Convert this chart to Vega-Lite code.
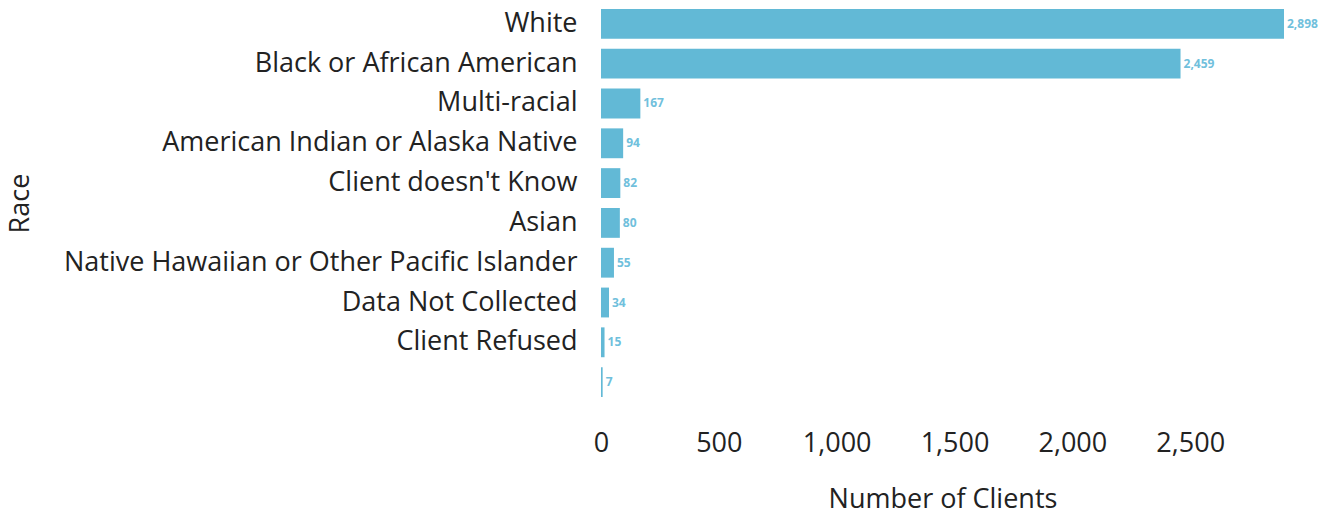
{
  "$schema": "https://vega.github.io/schema/vega-lite/v6.json",
  "autosize": {"type": "none"},
  "width": 683,
  "height": 400,
  "padding": {"left": 601, "top": 3, "right": 48, "bottom": 113},
  "background": "white",
  "data": {"values": [
    {"race": "White", "clients": 2898},
    {"race": "Black or African American", "clients": 2459},
    {"race": "Multi-racial", "clients": 167},
    {"race": "American Indian or Alaska Native", "clients": 94},
    {"race": "Client doesn't Know", "clients": 82},
    {"race": "Asian", "clients": 80},
    {"race": "Native Hawaiian or Other Pacific Islander", "clients": 55},
    {"race": "Data Not Collected", "clients": 34},
    {"race": "Client Refused", "clients": 15},
    {"race": " ", "clients": 7}
  ]},
  "config": {
    "view": {"stroke": null},
    "font": "Open Sans",
    "axis": {"labelFont": "Open Sans", "titleFont": "Open Sans", "labelColor": "#222", "titleColor": "#222", "titleFontWeight": "normal", "grid": false, "ticks": false, "domain": false, "labelLimit": 1000}
  },
  "encoding": {
    "y": {"field": "race", "type": "nominal", "sort": {"field": "clients", "order": "descending"},
      "scale": {"paddingInner": 0.25, "paddingOuter": 0.15},
      "axis": {"title": "Race", "labelFontSize": 27, "titleFontSize": 27, "labelPadding": 24, "titleX": -581, "titleY": 200, "titleBaseline": "middle"}},
    "x": {"field": "clients", "type": "quantitative", "scale": {"domain": [0, 2898], "nice": false},
      "axis": {"title": "Number of Clients", "labelFontSize": 27, "titleFontSize": 27, "labelPadding": 27, "titlePadding": 30, "format": ",.0f", "values": [0, 500, 1000, 1500, 2000, 2500], "labelFlush": false}}
  },
  "layer": [
    {"mark": {"type": "bar", "color": "#62b9d6"}},
    {"mark": {"type": "text", "align": "left", "baseline": "middle", "dx": 3, "fontSize": 12, "fontWeight": "bold", "color": "#70c0dc"},
     "encoding": {"text": {"field": "clients", "type": "quantitative", "format": ",.0f"}}}
  ]
}
